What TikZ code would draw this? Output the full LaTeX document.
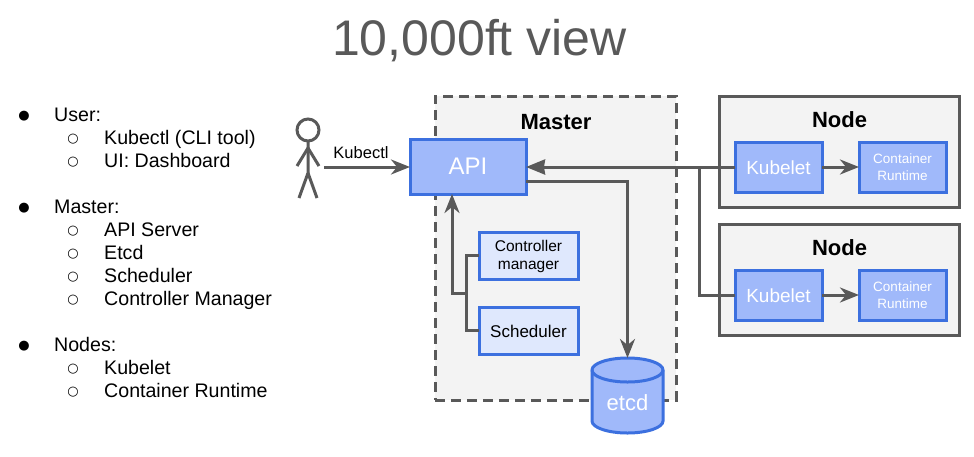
\documentclass[tikz,border=0pt]{standalone}
\usepackage{fontspec}
\setmainfont{Liberation Sans}
\newfontfamily\symfont{DejaVu Sans}
\usetikzlibrary{arrows.meta,positioning}
\definecolor{bluefill}{HTML}{A0B9FA}
\definecolor{blueline}{HTML}{3C70DF}
\definecolor{lightfill}{HTML}{DFE8FD}
\definecolor{graybg}{HTML}{F3F3F3}
\definecolor{grayline}{HTML}{595959}
\tikzset{
  fs/.style={font=\fontsize{#1}{#1}\selectfont},
  solidbox/.style={draw=blueline,fill=bluefill,line width=3pt,text=white,inner sep=0pt,outer sep=0pt,anchor=north west},
  lightbox/.style={draw=blueline,fill=lightfill,line width=3pt,text=black,inner sep=0pt,outer sep=0pt,anchor=north west},
  nodebox/.style={draw=grayline,fill=graybg,line width=3pt,inner sep=0pt,outer sep=0pt,anchor=north west,minimum width=240pt,minimum height=111pt},
  conn/.style={draw=grayline,line width=3pt},
  openarrow/.style={conn,-{Stealth[length=19pt,width=15pt,inset=6pt]}},
  fullarrow/.style={conn,-{Stealth[length=19pt,width=15pt,inset=1pt]}},
  bulleta/.style={anchor=center,inner sep=0pt,font=\symfont\fontsize{13}{13}\selectfont},
  listtext/.style={anchor=base west,inner sep=0pt,fs=19.6,text=black},
  actor/.style={draw=grayline,line width=3pt},
  boxtitle/.style={font=\bfseries\fontsize{22}{22}\selectfont,text=black,inner sep=0pt},
}
\begin{document}
\begin{tikzpicture}[x=1pt,y=-1pt]
\useasboundingbox (0,0) rectangle (974,456);
\node[fs=50,text=grayline,inner sep=0pt] (title) at (479.5,41) {10,000ft view};
% list
\foreach \n/\y/\t in {u/115/User:,m/207/Master:,n/345/Nodes:}{
  \node[bulleta] (b\n) at (24,\y+1) {●};
  \node[listtext] (t\n) at (54,\y+6.5) {\t};
}
\foreach \n/\y/\t in {a/138/Kubectl (CLI tool),b/161/UI: Dashboard,c/230/API Server,d/253/Etcd,e/276/Scheduler,f/299/Controller Manager,g/368/Kubelet,h/391/Container Runtime}{
  \node[bulleta] (c\n) at (73,\y+1) {○};
  \node[listtext] (s\n) at (104,\y+6.5) {\t};
}
% containers
\node[draw=grayline,fill=graybg,line width=3pt,dash pattern=on 10pt off 6pt,inner sep=0pt,outer sep=0pt,anchor=north west,minimum width=241pt,minimum height=304pt] (master) at (435,96) {};
\node[nodebox] (node1) at (719,96) {};
\node[nodebox] (node2) at (719,224) {};
\node[boxtitle] (mastert) at (556,122) {Master};
\node[boxtitle] (node1t) at (839.5,120) {Node};
\node[boxtitle] (node2t) at (839.5,248) {Node};
% boxes
\node[solidbox,minimum width=116pt,minimum height=55pt,fs=24] (api) at (410,139) {API};
\node[lightbox,align=center,minimum width=99pt,minimum height=47pt,fs=15.5] (cm) at (479,232) {\rule{0pt}{13.2pt}Controller\\[2pt]manager};
\node[lightbox,text height=14.2pt,text depth=0pt,minimum width=99pt,minimum height=47pt,fs=17] (sched) at (479,307) {Scheduler};
\node[solidbox,text height=15.7pt,text depth=0pt,minimum width=87pt,minimum height=50pt,fs=19] (k1) at (735,142) {Kubelet};
\node[solidbox,align=center,minimum width=87pt,minimum height=50pt,fs=13.5] (r1) at (859,142) {\rule{0pt}{10.7pt}Container\\[3.5pt]Runtime};
\node[solidbox,text height=15.7pt,text depth=0pt,minimum width=87pt,minimum height=50pt,fs=19] (k2) at (735,270) {Kubelet};
\node[solidbox,align=center,minimum width=87pt,minimum height=50pt,fs=13.5] (r2) at (859,270) {\rule{0pt}{10.7pt}Container\\[3.5pt]Runtime};
% etcd cylinder
\draw[draw=blueline,fill=bluefill,line width=3pt] (592,370) arc[x radius=35.5pt,y radius=12pt,start angle=180,end angle=0] -- (663,421) arc[x radius=35.5pt,y radius=12pt,start angle=0,end angle=-180] -- cycle;
\draw[draw=blueline,line width=3pt] (592,370) arc[x radius=35.5pt,y radius=12pt,start angle=180,end angle=360];
\node[text=white,fs=22,inner sep=0pt] (etcd) at (627.5,403) {etcd};
\coordinate (etop) at (627.5,358);
% actor
\node[circle,actor,minimum size=22pt,inner sep=0pt,outer sep=0pt] (head) at (308,130) {};
\coordinate (hip) at (308,173);
\coordinate (neck) at (308,148);
\coordinate (la) at (297,166);
\coordinate (ra) at (319,166);
\coordinate (ll) at (299,198);
\coordinate (rl) at (317,198);
\draw[actor] (head.south) -- (hip) -- (ll);
\draw[actor] (hip) -- (rl);
\draw[actor] (la) -- (neck) -- (ra);
% connectors
\coordinate (kstart) at (324,167);
\draw[openarrow] (kstart) -- (api.west |- kstart);
\node[fs=16.5,inner sep=0pt,text=black] (kubectl) at (361,153) {Kubectl};
\coordinate (branch) at (699,167);
\draw[fullarrow] (k1.west) -- (api.east |- k1.west);
\draw[conn] (branch) -- (k2.west -| branch) -- (k2.west);
\draw[openarrow] (k1.east) -- (r1.west);
\draw[openarrow] (k2.east) -- (r2.west);
\coordinate (apiout) at (526,181);
\draw[openarrow] (apiout) -| (etop);
\coordinate (upfoot) at (452,293);
\coordinate (trunk) at (466,293);
\draw[openarrow] (trunk) -- (upfoot) -- (api.south -| upfoot);
\draw[conn] (cm.west) -- (cm.west -| trunk) -- (sched.west -| trunk) -- (sched.west);
\end{tikzpicture}
\end{document}
